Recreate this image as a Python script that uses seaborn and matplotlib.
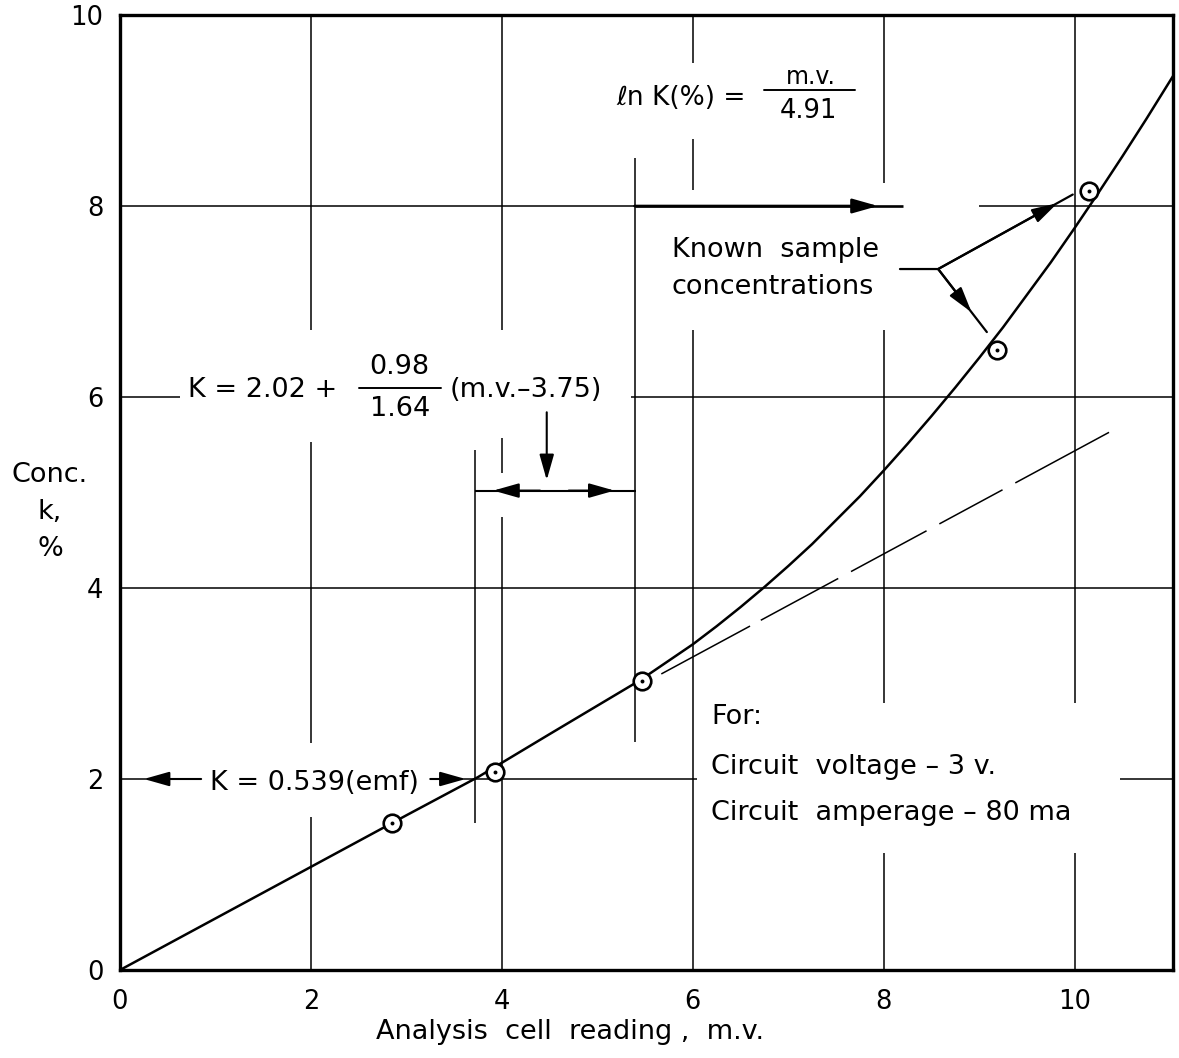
import matplotlib
matplotlib.use("Agg")
import matplotlib.pyplot as plt
import seaborn as sns
import pandas as pd

# ---------------- data ----------------
curve_x = [0, 1, 2, 3, 3.75, 4.5, 5.39, 5.5, 5.75, 6.0, 6.25, 6.5, 6.75, 7.0, 7.25, 7.5,
           7.75, 8.0, 8.25, 8.5, 8.75, 9.0, 9.25, 9.5, 9.75, 10.0, 10.25, 10.5, 10.75, 11.03]
curve_y = [0, 0.54, 1.08, 1.62, 2.02, 2.47, 3.0, 3.07, 3.24, 3.41, 3.60, 3.80, 4.01, 4.23, 4.46, 4.71,
           4.96, 5.23, 5.51, 5.80, 6.10, 6.41, 6.73, 7.07, 7.41, 7.77, 8.14, 8.52, 8.91, 9.36]

tangent_x = [5.67, 10.36]
tangent_y = [3.10, 5.63]

sample_x = [2.85, 3.93, 5.47, 9.19, 10.15]
sample_y = [1.54, 2.07, 3.03, 6.49, 8.16]

x_ticks = [0, 2, 4, 6, 8, 10]
y_ticks = [0, 2, 4, 6, 8, 10]
x_tick_labels = ["0", "2", "4", "6", "8", "10"]
y_tick_labels = ["0", "2", "4", "6", "8", "10"]

# ---------------- style ----------------
sns.set_theme(style="white")
plt.rcParams["font.family"] = ["DejaVu Sans"]
plt.rcParams["mathtext.fontset"] = "dejavusans"

W, H = 1179, 1058
fig = plt.figure(figsize=(W / 100, H / 100), dpi=100)
ax = fig.add_axes([120 / W, 88 / H, 1053 / W, 955 / H])
ax.set_xlim(0, 11.03)
ax.set_ylim(0, 10)

K = "black"
GRID_LW = 1.1
TXT = 19.5

# broken grid lines (gaps where the original leaves room for lettering)
vgrid = {
    2: [(6.7, 10), (2.38, 5.53), (0, 1.6)],
    4: [(6.7, 10), (5.2, 5.57), (0, 4.74)],
    6: [(9.5, 10), (8.17, 8.7), (0, 6.7)],
    8: [(8.24, 10), (2.8, 6.7), (0, 1.22)],
    10: [(2.8, 10), (0, 1.22)],
}
hgrid = {
    8: [(0, 5.39), (9.0, 11.03)],
    6: [(0, 0.63), (5.35, 11.03)],
    4: [(0, 11.03)],
    2: [(0, 0.85), (3.25, 6.04), (10.47, 11.03)],
}
for xv, segs in vgrid.items():
    for y0, y1 in segs:
        ax.vlines(xv, y0, y1, color=K, lw=GRID_LW, zorder=1)
for yv, segs in hgrid.items():
    for x0, x1 in segs:
        ax.hlines(yv, x0, x1, color=K, lw=GRID_LW, zorder=1)

# construction lines
ax.vlines(3.72, 1.54, 5.44, color=K, lw=GRID_LW, zorder=1)
ax.vlines(5.39, 2.39, 8.5, color=K, lw=GRID_LW, zorder=1)

# ---------------- main curve, tangent, samples ----------------
df_curve = pd.DataFrame({"mv": curve_x, "k": curve_y})
sns.lineplot(data=df_curve, x="mv", y="k", ax=ax, color=K, lw=1.8, sort=False,
             estimator=None, zorder=3)

df_tan = pd.DataFrame({"mv": tangent_x, "k": tangent_y})
sns.lineplot(data=df_tan, x="mv", y="k", ax=ax, color=K, lw=1.1, sort=False,
             estimator=None, zorder=3)
ax.lines[-1].set_dashes([66, 8, 57.6, 9.5, 56.2, 9.5, 47, 9.5, 80, 10])

df_s = pd.DataFrame({"mv": sample_x, "k": sample_y})
sns.scatterplot(data=df_s, x="mv", y="k", ax=ax, s=160, marker="o",
                facecolor="white", edgecolor=K, linewidth=1.9, zorder=5)
sns.scatterplot(data=df_s, x="mv", y="k", ax=ax, s=8, marker="o",
                color=K, edgecolor=K, linewidth=0, zorder=6)

# ---------------- arrows ----------------
AST = "-|>,head_length=0.6,head_width=0.17"


def arrow(tip, tail, lw=1.5):
    ax.annotate("", xy=tip, xytext=tail,
                arrowprops=dict(arrowstyle=AST, mutation_scale=26, lw=lw, color=K,
                                shrinkA=0, shrinkB=0), zorder=4)


# y = 2 left arrow and right arrow
arrow((0.25, 2.0), (0.85, 2.0))
arrow((3.62, 2.0), (3.25, 2.0))
# double arrow between construction lines
ax.hlines(5.02, 3.72, 5.40, color=K, lw=1.5, zorder=2)
arrow((3.91, 5.02), (4.4, 5.02))
arrow((5.18, 5.02), (4.7, 5.02))
# down arrow
arrow((4.47, 5.13), (4.47, 5.84))
# y = 8 arrow
ax.hlines(8.0, 5.39, 8.2, color=K, lw=1.9, zorder=2)
arrow((7.94, 8.0), (5.39, 8.0), lw=1.9)
# Known sample concentration leaders
ax.plot([8.17, 8.57, 9.98], [7.34, 7.34, 8.12], color=K, lw=1.6, zorder=2)
arrow((9.82, 8.03), (8.57, 7.34), lw=1.6)
ax.plot([8.57, 9.08], [7.34, 6.68], color=K, lw=1.6, zorder=2)
arrow((8.92, 6.887), (8.57, 7.34), lw=1.6)

# ---------------- lettering ----------------
ax.text(0.94, 1.96, "K = 0.539(emf)", fontsize=TXT, ha="left", va="center", color=K)

ax.text(0.71, 6.07, "K = 2.02 +", fontsize=TXT, ha="left", va="center", color=K)
ax.text(2.93, 6.31, "0.98", fontsize=TXT, ha="center", va="center", color=K)
ax.plot([2.5, 3.36], [6.09, 6.09], color=K, lw=1.4)
ax.text(2.93, 5.87, "1.64", fontsize=TXT, ha="center", va="center", color=K)
ax.text(3.45, 6.07, "(m.v.\u20133.75)", fontsize=TXT, ha="left", va="center", color=K)

ax.text(5.2, 9.13, "\u2113n K(%) =", fontsize=19, ha="left", va="center", color=K)
ax.text(7.24, 9.35, "m.v.", fontsize=17, ha="center", va="center", color=K)
ax.plot([6.75, 7.7], [9.21, 9.21], color=K, lw=1.4)
ax.text(7.21, 8.99, "4.91", fontsize=18.5, ha="center", va="center", color=K)

ax.text(5.78, 7.54, "Known  sample", fontsize=TXT, ha="left", va="center", color=K)
ax.text(5.78, 7.15, "concentrations", fontsize=TXT, ha="left", va="center", color=K)

ax.text(6.19, 2.65, "For:", fontsize=TXT, ha="left", va="center", color=K)
ax.text(6.19, 2.13, "Circuit  voltage \u2013 3 v.", fontsize=TXT, ha="left", va="center", color=K)
ax.text(6.19, 1.64, "Circuit  amperage \u2013 80 ma", fontsize=TXT, ha="left", va="center", color=K)

# ---------------- axes ----------------
ax.set_xticks(x_ticks)
ax.set_xticklabels(x_tick_labels)
ax.set_yticks(y_ticks)
ax.set_yticklabels(y_tick_labels)
ax.tick_params(axis="both", which="major", labelsize=18.5, length=3, width=1.5,
               color=K, labelcolor=K, direction="out")
ax.tick_params(axis="x", pad=11)
ax.tick_params(axis="y", pad=9)
ax.grid(False)
for sp in ax.spines.values():
    sp.set_visible(True)
    sp.set_color(K)
    sp.set_linewidth(2.4)

ax.set_xlabel("Analysis  cell  reading ,  m.v.", fontsize=TXT, color=K)
ax.xaxis.label.set_va("center")
ax.xaxis.set_label_coords((570 - 120) / 1053, (970 - 1032) / 955)

ax.set_ylabel("Conc.\nk,\n%", fontsize=TXT, color=K, rotation=0,
              ha="center", va="center", multialignment="center", linespacing=1.55)
ax.yaxis.set_label_coords((50 - 120) / 1053, (970 - 512) / 955)

fig.savefig("out.png", dpi=100, facecolor="white")
